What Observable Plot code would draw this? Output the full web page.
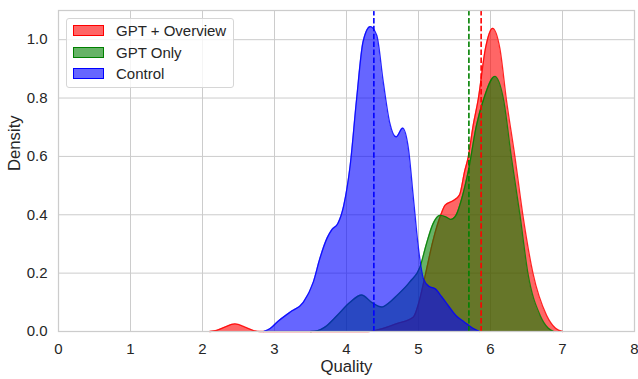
<!DOCTYPE html>
<html>
<head>
<meta charset="utf-8">
<script src="https://cdn.jsdelivr.net/npm/d3@7"></script>
<script src="https://cdn.jsdelivr.net/npm/@observablehq/plot@0.6"></script>
<style>
  html, body { margin: 0; padding: 0; background: white; }
  #wrap { position: relative; width: 638px; height: 379px; font-family: "Liberation Sans", Arial, sans-serif; }
  #legend { position: absolute; left: 66px; top: 18px; width: 168px; height: 70px; background: rgba(255,255,255,0.8);
            border: 1px solid #d6d6d6; border-radius: 3px; box-sizing: border-box; }
  .item { position: absolute; left: 0; height: 12px; font-size: 15px; color: #262626; }
  .sw { position: absolute; left: 6px; top: 0; width: 31px; height: 11px; box-sizing: border-box; border-width: 1.2px; border-style: solid; }
  .lab { position: absolute; left: 49px; top: -3px; white-space: nowrap; line-height: 17px; }
</style>
</head>
<body>
<div id="wrap"><div id="legend"></div></div>
<script>
// ---- data ----
const seriesNames = ["GPT + Overview", "GPT Only", "Control"];

const overviewQuality = [2.10, 2.20, 2.30, 2.45, 2.60, 2.70, 2.80, 4.30, 4.50, 4.70, 4.93, 5.00, 5.10, 5.20, 5.31, 5.37, 5.48, 5.57, 5.64, 5.69, 5.76, 5.83, 5.93, 6.03, 6.13, 6.22, 6.34, 6.45, 6.59, 6.78, 6.90, 7.00];
const overviewDensity = [0, 0.004, 0.014, 0.026, 0.014, 0.004, 0, 0, 0.010, 0.027, 0.050, 0.095, 0.20, 0.31, 0.40, 0.433, 0.448, 0.468, 0.548, 0.597, 0.707, 0.796, 0.970, 1.039, 0.970, 0.796, 0.597, 0.398, 0.199, 0.055, 0.012, 0];

const onlyQuality = [3.50, 3.60, 3.70, 3.87, 4.05, 4.21, 4.35, 4.49, 4.60, 4.70, 4.88, 5.02, 5.11, 5.20, 5.30, 5.38, 5.45, 5.52, 5.60, 5.70, 5.80, 5.91, 6.06, 6.18, 6.29, 6.41, 6.52, 6.69, 6.80, 6.88];
const onlyDensity = [0, 0.003, 0.015, 0.055, 0.10, 0.125, 0.10, 0.084, 0.10, 0.123, 0.17, 0.22, 0.30, 0.368, 0.398, 0.393, 0.384, 0.398, 0.455, 0.56, 0.70, 0.80, 0.874, 0.796, 0.597, 0.398, 0.199, 0.055, 0.012, 0];

const controlQuality = [2.85, 2.94, 3.05, 3.22, 3.40, 3.54, 3.63, 3.73, 3.80, 3.88, 3.96, 4.05, 4.14, 4.23, 4.33, 4.42, 4.51, 4.60, 4.69, 4.78, 4.86, 4.93, 5.00, 5.07, 5.15, 5.23, 5.32, 5.41, 5.52, 5.64, 5.75, 5.85];
const controlDensity = [0, 0.010, 0.035, 0.067, 0.10, 0.17, 0.25, 0.32, 0.35, 0.37, 0.43, 0.567, 0.796, 0.993, 1.045, 1.015, 0.856, 0.716, 0.667, 0.697, 0.627, 0.455, 0.284, 0.18, 0.154, 0.147, 0.12, 0.09, 0.055, 0.032, 0.012, 0];

const meanQuality = [5.87, 5.70, 4.38];

const xTicks = [0, 1, 2, 3, 4, 5, 6, 7, 8];
const yTicks = [0, 0.2, 0.4, 0.6, 0.8, 1.0];

// ---- build tables ----
const colors = ["#ff0000", "#008000", "#0000ff"];
const colorOf = Object.fromEntries(seriesNames.map((n, i) => [n, colors[i]]));
const pairs = [[overviewQuality, overviewDensity], [onlyQuality, onlyDensity], [controlQuality, controlDensity]];
const curves = seriesNames.map((name, i) => pairs[i][0].map((q, j) => ({name, q, d: pairs[i][1][j]})));
const means = seriesNames.map((name, i) => ({name, q: meanQuality[i]}));

const marks = [
  Plot.gridX(xTicks, {stroke: "#cccccc", strokeOpacity: 1, strokeWidth: 1}),
  Plot.gridY(yTicks, {stroke: "#cccccc", strokeOpacity: 1, strokeWidth: 1}),
];
curves.forEach((data, i) => {
  marks.push(Plot.areaY(data, {x: "q", y: "d", fill: colors[i], fillOpacity: 0.6, curve: "monotone-x"}));
  marks.push(Plot.lineY(data, {x: "q", y: "d", stroke: colors[i], strokeWidth: 1.3, strokeOpacity: 0.85, curve: "monotone-x"}));
});
marks.push(Plot.ruleX(means, {x: "q", stroke: d => colorOf[d.name], strokeWidth: 1.6, strokeDasharray: "5.5,2.4"}));
marks.push(Plot.frame({stroke: "#cccccc", strokeWidth: 1.25}));
marks.push(Plot.axisX(xTicks, {tickSize: 0, tickPadding: 12, fontSize: 15, fill: "#262626", label: null, tickFormat: d => String(d)}));
marks.push(Plot.axisY(yTicks, {tickSize: 0, tickPadding: 11, fontSize: 15, fill: "#262626", label: null, tickFormat: d3.format(".1f")}));
marks.push(Plot.text(["Quality"], {frameAnchor: "bottom", dy: 40, fontSize: 16.7, fill: "#262626", text: d => d}));
marks.push(Plot.text(["Density"], {frameAnchor: "left", dx: -44, rotate: -90, fontSize: 16.7, fill: "#262626", text: d => d}));

const chart = Plot.plot({
  width: 638,
  height: 379,
  marginLeft: 58,
  marginRight: 4,
  marginTop: 10,
  marginBottom: 48,
  style: {fontFamily: "'Liberation Sans', Arial, sans-serif", background: "white", color: "#262626"},
  x: {domain: [0, 8], nice: false},
  y: {domain: [0, 1.1], nice: false},
  marks
});
document.getElementById("wrap").prepend(chart);

// ---- legend ----
const legend = document.getElementById("legend");
seriesNames.forEach((name, i) => {
  const item = document.createElement("div");
  item.className = "item";
  item.style.top = (6 + i * 21.7) + "px";
  const sw = document.createElement("div");
  sw.className = "sw";
  sw.style.background = d3.color(colors[i]).copy({opacity: 0.6}).formatRgb();
  sw.style.borderColor = colors[i];
  const lab = document.createElement("div");
  lab.className = "lab";
  lab.textContent = name;
  item.append(sw, lab);
  legend.append(item);
});
</script>
</body>
</html>
